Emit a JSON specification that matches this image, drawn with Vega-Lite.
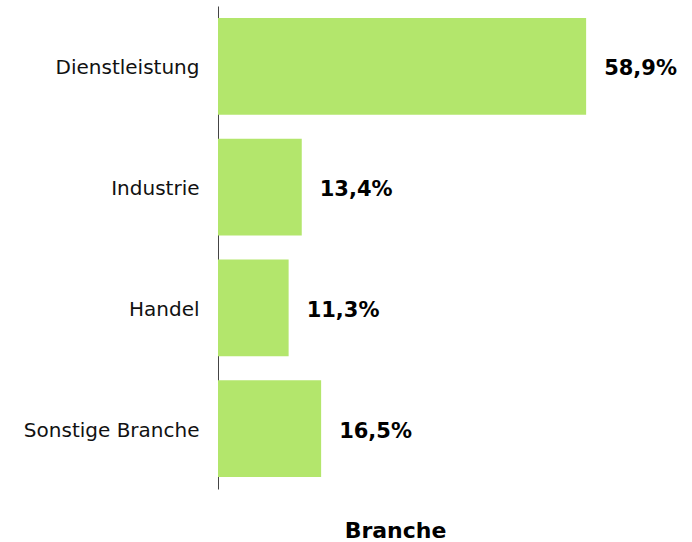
{
  "$schema": "https://vega.github.io/schema/vega-lite/v6.json",
  "autosize": "none",
  "width": 460,
  "height": 483,
  "padding": {"left": 218, "top": 6, "right": 14, "bottom": 53},
  "background": "white",
  "data": {"values": [
    {"Branche": "Dienstleistung", "Anteil": 58.9, "Label": "58,9%"},
    {"Branche": "Industrie", "Anteil": 13.4, "Label": "13,4%"},
    {"Branche": "Handel", "Anteil": 11.3, "Label": "11,3%"},
    {"Branche": "Sonstige Branche", "Anteil": 16.5, "Label": "16,5%"}
  ]},
  "encoding": {
    "y": {"field": "Branche", "type": "nominal", "sort": null,
      "scale": {"paddingInner": 0.2, "paddingOuter": 0.1},
      "axis": {"title": null, "ticks": false, "labelPadding": 19, "labelOffset": 2, "labelFontSize": 20, "labelFont": "DejaVu Sans", "labelColor": "#111", "domainColor": "#444", "domainWidth": 1}},
    "x": {"field": "Anteil", "type": "quantitative",
      "scale": {"domain": [0, 73.6], "nice": false, "zero": true},
      "axis": {"title": "Branche", "domain": false, "ticks": false, "labels": false, "grid": false,
        "titleFont": "DejaVu Sans", "titleFontSize": 22, "titleFontWeight": "bold", "titleColor": "#000",
        "titleX": 177, "titlePadding": 31}}
  },
  "layer": [
    {"mark": {"type": "bar", "color": "#b3e66c"}},
    {"mark": {"type": "text", "align": "left", "dx": 18, "dy": 3, "font": "DejaVu Sans", "fontSize": 21, "fontWeight": "bold", "color": "#000"},
     "encoding": {"text": {"field": "Label"}}}
  ],
  "config": {"view": {"stroke": null}}
}
